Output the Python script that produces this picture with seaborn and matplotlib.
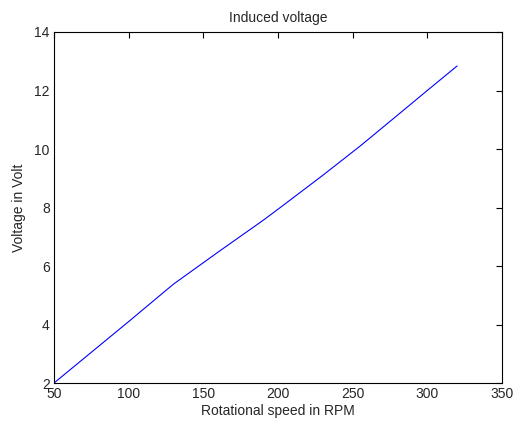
#!/usr/bin/env python3
"""Induced voltage vs rotational speed (MATLAB-style line plot)."""

import pandas as pd
import seaborn as sns
import matplotlib.pyplot as plt

# --- Data ---
speed_rpm = [50, 100, 130, 160, 190, 200, 230, 255, 265, 300, 320]
voltage_v = [2.0, 4.1, 5.38, 6.48, 7.56, 7.94, 9.1, 10.1, 10.52, 12.0, 12.84]

x_ticks = [50, 100, 150, 200, 250, 300, 350]
y_ticks = [2, 4, 6, 8, 10, 12, 14]

sns.set_theme(style="white")
plt.rcParams["font.family"] = ["Liberation Sans", "DejaVu Sans"]
plt.rcParams["xtick.direction"] = "in"
plt.rcParams["ytick.direction"] = "in"


def main():
    df = pd.DataFrame({"speed": speed_rpm, "voltage": voltage_v})

    fig = plt.figure(figsize=(5.18, 4.21), dpi=100)
    ax = fig.add_axes([0.104, 0.090, 0.865, 0.834])

    sns.lineplot(data=df, x="speed", y="voltage", color="#0000ff",
                 linewidth=0.8, ax=ax)

    ax.set_xlim(50, 350)
    ax.set_ylim(2, 14)
    ax.set_xticks(x_ticks)
    ax.set_yticks(y_ticks)
    ax.tick_params(axis="both", labelsize=10, length=4, width=0.8,
                   top=True, right=True, color="black", pad=3)

    for side in ["left", "right", "top", "bottom"]:
        ax.spines[side].set_visible(True)
        ax.spines[side].set_color("black")
        ax.spines[side].set_linewidth(0.8)

    ax.set_title("Induced voltage", fontsize=10, pad=7)
    ax.set_xlabel("Rotational speed in RPM", fontsize=10, labelpad=2)
    ax.set_ylabel("Voltage in Volt", fontsize=10, labelpad=6)
    ax.grid(False)

    fig.savefig("out.png", dpi=100)
    plt.close(fig)


if __name__ == "__main__":
    main()
